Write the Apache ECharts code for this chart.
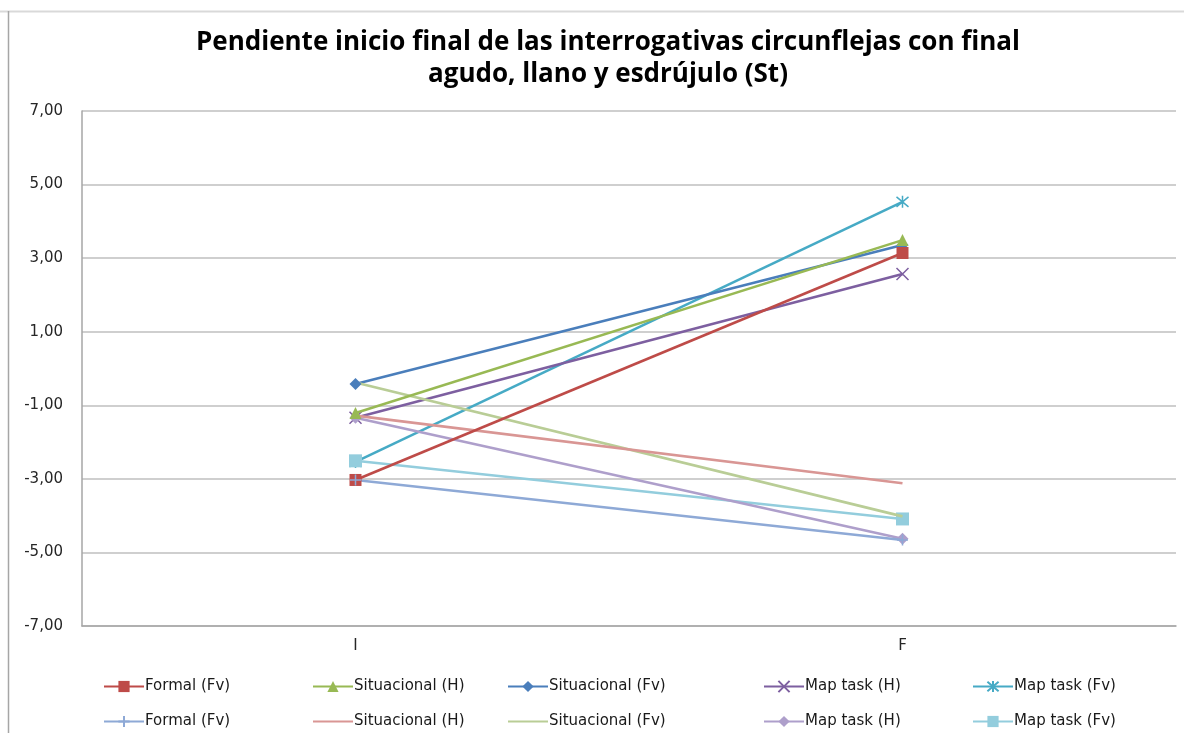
<!DOCTYPE html>
<html>
<head>
<meta charset="utf-8">
<script src="https://cdn.jsdelivr.net/npm/echarts@6/dist/echarts.min.js"></script>
<style>
html,body{margin:0;padding:0;background:#fff;}
#c{width:1184px;height:733px;}
</style>
</head>
<body>
<div id="c"></div>
<script>
var categories = ['I', 'F'];
var yTicks = [-7, -5, -3, -1, 1, 3, 5, 7];

var formalFvA = [-3.03, 3.14];
var situacionalHA = [-1.21, 3.49];
var situacionalFvA = [-0.42, 3.36];
var mapTaskHA = [-1.34, 2.57];
var mapTaskFvA = [-2.54, 4.53];

var formalFvB = [-3.03, -4.66];
var situacionalHB = [-1.28, -3.12];
var situacionalFvB = [-0.38, -4.02];
var mapTaskHB = [-1.34, -4.63];
var mapTaskFvB = [-2.51, -4.09];

var seriesLabels = ['Formal (Fv)', 'Situacional (H)', 'Situacional (Fv)', 'Map task (H)', 'Map task (Fv)',
                    'Formal (Fv)', 'Situacional (H)', 'Situacional (Fv)', 'Map task (H)', 'Map task (Fv)'];
var seriesValues = [formalFvA, situacionalHA, situacionalFvA, mapTaskHA, mapTaskFvA,
                    formalFvB, situacionalHB, situacionalFvB, mapTaskHB, mapTaskFvB];

var colors = ['#BE4B48', '#98B954', '#4A7EBB', '#7D5FA0', '#46AAC5',
              '#8EA9D6', '#D99694', '#B9CD96', '#AE9FCB', '#93CDDD'];
var X_PATH = 'path://M0,0L10,10M10,0L0,10';
var STAR_PATH = 'path://M0,0L10,10M10,0L0,10M5,-1L5,11';
var PLUS_PATH = 'path://M5,0L5,10M0,5L10,5';
var symbols = ['rect', 'triangle', 'diamond', X_PATH, STAR_PATH,
               PLUS_PATH, 'none', 'none', 'diamond', 'rect'];
var symbolSizes = [12, 12, 12, 12, 12, 11, 0, 0, 12, 13];
var stroked = [false, false, false, true, true, true, false, false, false, false];

// unique keys (labels repeat), legend shows the label text
var keys = seriesLabels.map(function (l, i) { return l + '#' + i; });

var series = seriesValues.map(function (vals, i) {
  return {
    name: keys[i],
    type: 'line',
    data: vals,
    symbol: symbols[i],
    symbolSize: symbolSizes[i],
    showSymbol: symbols[i] !== 'none',
    lineStyle: { color: colors[i], width: 2.6 },
    itemStyle: stroked[i]
      ? { color: colors[i], borderColor: colors[i], borderWidth: 1.5 }
      : { color: colors[i], borderWidth: 0 },
    z: 10 - (i % 5)
  };
});

var legendX = [98, 307, 502, 758, 967];
var legendY = [674, 709];
var legends = keys.map(function (k, i) {
  var item = symbols[i] === 'none' ? { name: k, itemStyle: { opacity: 0 } } : { name: k };
  return {
    left: legendX[i % 5],
    top: legendY[Math.floor(i / 5)],
    itemWidth: 40,
    itemHeight: 14,
    itemGap: 0,
    data: [item],
    formatter: function (n) { return n.split('#')[0]; },
    textStyle: { fontFamily: 'DejaVu Sans', fontSize: 15, color: '#1a1a1a', padding: [0, 0, 0, -4] }
  };
});

var chart = echarts.init(document.getElementById('c'), null, { renderer: 'canvas' });
chart.setOption({
  animation: false,
  backgroundColor: '#ffffff',
  color: colors,
  title: {
    text: 'Pendiente inicio final de las interrogativas circunflejas con final\nagudo, llano y esdrújulo (St)',
    left: 603,
    textAlign: 'center',
    top: 22,
    textStyle: { fontFamily: 'Open Sans', fontWeight: 'bold', fontSize: 26, lineHeight: 32, color: '#000' }
  },
  legend: legends,
  grid: { left: 82, right: 8, top: 111, bottom: 107 },
  xAxis: {
    type: 'category',
    data: categories,
    boundaryGap: true,
    axisLine: { onZero: false, lineStyle: { color: '#A6A6A6', width: 1.5 } },
    axisTick: { show: false },
    axisLabel: { fontFamily: 'DejaVu Sans', fontSize: 15, color: '#262626', margin: 13 }
  },
  yAxis: {
    type: 'value',
    min: yTicks[0],
    max: yTicks[yTicks.length - 1],
    interval: 2,
    axisLine: { show: true, lineStyle: { color: '#A6A6A6', width: 1.5 } },
    axisTick: { show: false },
    splitLine: { lineStyle: { color: '#BFBFBF', width: 1.5 } },
    axisLabel: {
      fontFamily: 'DejaVu Sans', fontSize: 15, color: '#262626', margin: 19,
      formatter: function (v) { return v.toFixed(2).replace('.', ','); }
    }
  },
  graphic: [
    { type: 'line', shape: { x1: 0, y1: 11.5, x2: 1184, y2: 11.5 }, style: { stroke: '#D9D9D9', lineWidth: 2 }, silent: true },
    { type: 'line', shape: { x1: 8.5, y1: 11, x2: 8.5, y2: 733 }, style: { stroke: '#A6A6A6', lineWidth: 1.5 }, silent: true }
  ],
  series: series
});
</script>
</body>
</html>
